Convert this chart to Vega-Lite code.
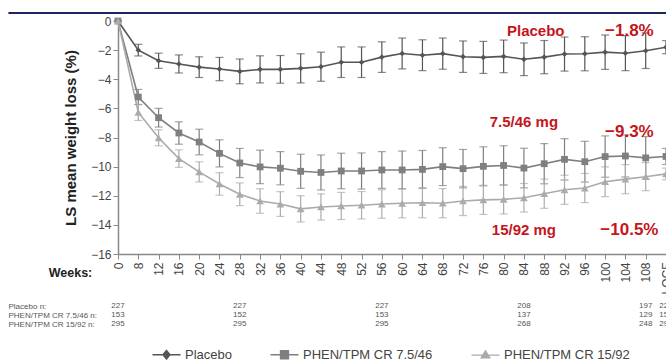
{
  "$schema": "https://vega.github.io/schema/vega-lite/v6.json",
  "width": 548,
  "height": 233,
  "autosize": "none",
  "padding": {"left": 118, "top": 21, "right": 0, "bottom": 106},
  "background": "white",
  "config": {
    "font": "Liberation Sans",
    "view": {"stroke": null},
    "axis": {"grid": false},
    "axisY": {"domainColor": "#888", "domainWidth": 1.5, "tickColor": "#888", "tickSize": 5, "labelFontSize": 12, "labelColor": "#444", "labelPadding": 2, "titleFontSize": 15, "titleFontWeight": "bold", "titleColor": "#222", "titlePadding": 12},
    "axisX": {"labelAngle": -90, "labelFontSize": 12, "labelColor": "#444", "tickSize": 5, "tickColor": "#888", "domainColor": "#888", "domainWidth": 1.5, "labelPadding": 3, "titleFontSize": 12.5, "titleFontWeight": "bold", "titleColor": "#222", "titleX": -48, "titleY": 18, "titleAlign": "center", "titleBaseline": "middle"}
  },
  "datasets": {
    "series": [
      {"arm": "Placebo", "week": "0", "mean": 0, "lo": 0, "hi": 0},
      {"arm": "Placebo", "week": "8", "mean": -2.0, "lo": -2.4, "hi": -1.6},
      {"arm": "Placebo", "week": "12", "mean": -2.73, "lo": -3.25, "hi": -2.21},
      {"arm": "Placebo", "week": "16", "mean": -2.95, "lo": -3.57, "hi": -2.33},
      {"arm": "Placebo", "week": "20", "mean": -3.17, "lo": -3.88, "hi": -2.46},
      {"arm": "Placebo", "week": "24", "mean": -3.3, "lo": -4.1, "hi": -2.5},
      {"arm": "Placebo", "week": "28", "mean": -3.46, "lo": -4.31, "hi": -2.61},
      {"arm": "Placebo", "week": "32", "mean": -3.32, "lo": -4.25, "hi": -2.39},
      {"arm": "Placebo", "week": "36", "mean": -3.32, "lo": -4.27, "hi": -2.37},
      {"arm": "Placebo", "week": "40", "mean": -3.25, "lo": -4.25, "hi": -2.25},
      {"arm": "Placebo", "week": "44", "mean": -3.14, "lo": -4.14, "hi": -2.14},
      {"arm": "Placebo", "week": "48", "mean": -2.83, "lo": -3.88, "hi": -1.78},
      {"arm": "Placebo", "week": "52", "mean": -2.83, "lo": -3.88, "hi": -1.78},
      {"arm": "Placebo", "week": "56", "mean": -2.48, "lo": -3.53, "hi": -1.43},
      {"arm": "Placebo", "week": "60", "mean": -2.23, "lo": -3.29, "hi": -1.17},
      {"arm": "Placebo", "week": "64", "mean": -2.35, "lo": -3.41, "hi": -1.29},
      {"arm": "Placebo", "week": "68", "mean": -2.24, "lo": -3.31, "hi": -1.17},
      {"arm": "Placebo", "week": "72", "mean": -2.45, "lo": -3.53, "hi": -1.37},
      {"arm": "Placebo", "week": "76", "mean": -2.5, "lo": -3.6, "hi": -1.4},
      {"arm": "Placebo", "week": "80", "mean": -2.43, "lo": -3.55, "hi": -1.31},
      {"arm": "Placebo", "week": "84", "mean": -2.63, "lo": -3.75, "hi": -1.51},
      {"arm": "Placebo", "week": "88", "mean": -2.48, "lo": -3.62, "hi": -1.34},
      {"arm": "Placebo", "week": "92", "mean": -2.27, "lo": -3.44, "hi": -1.1},
      {"arm": "Placebo", "week": "96", "mean": -2.25, "lo": -3.42, "hi": -1.08},
      {"arm": "Placebo", "week": "100", "mean": -2.14, "lo": -3.32, "hi": -0.96},
      {"arm": "Placebo", "week": "104", "mean": -2.21, "lo": -3.41, "hi": -1.01},
      {"arm": "Placebo", "week": "108", "mean": -2.04, "lo": -3.26, "hi": -0.82},
      {"arm": "Placebo", "week": "LOCF", "mean": -1.8, "lo": -2.25, "hi": -1.35},
      {"arm": "PHEN/TPM CR 7.5/46", "week": "0", "mean": 0, "lo": 0, "hi": 0},
      {"arm": "PHEN/TPM CR 7.5/46", "week": "8", "mean": -5.22, "lo": -5.74, "hi": -4.7},
      {"arm": "PHEN/TPM CR 7.5/46", "week": "12", "mean": -6.64, "lo": -7.28, "hi": -6.0},
      {"arm": "PHEN/TPM CR 7.5/46", "week": "16", "mean": -7.69, "lo": -8.46, "hi": -6.92},
      {"arm": "PHEN/TPM CR 7.5/46", "week": "20", "mean": -8.31, "lo": -9.19, "hi": -7.43},
      {"arm": "PHEN/TPM CR 7.5/46", "week": "24", "mean": -9.09, "lo": -10.02, "hi": -8.16},
      {"arm": "PHEN/TPM CR 7.5/46", "week": "28", "mean": -9.75, "lo": -10.75, "hi": -8.75},
      {"arm": "PHEN/TPM CR 7.5/46", "week": "32", "mean": -10.02, "lo": -11.17, "hi": -8.87},
      {"arm": "PHEN/TPM CR 7.5/46", "week": "36", "mean": -10.11, "lo": -11.25, "hi": -8.97},
      {"arm": "PHEN/TPM CR 7.5/46", "week": "40", "mean": -10.32, "lo": -11.49, "hi": -9.15},
      {"arm": "PHEN/TPM CR 7.5/46", "week": "44", "mean": -10.4, "lo": -11.6, "hi": -9.2},
      {"arm": "PHEN/TPM CR 7.5/46", "week": "48", "mean": -10.3, "lo": -11.52, "hi": -9.08},
      {"arm": "PHEN/TPM CR 7.5/46", "week": "52", "mean": -10.3, "lo": -11.54, "hi": -9.06},
      {"arm": "PHEN/TPM CR 7.5/46", "week": "56", "mean": -10.23, "lo": -11.49, "hi": -8.97},
      {"arm": "PHEN/TPM CR 7.5/46", "week": "60", "mean": -10.23, "lo": -11.53, "hi": -8.93},
      {"arm": "PHEN/TPM CR 7.5/46", "week": "64", "mean": -10.19, "lo": -11.49, "hi": -8.89},
      {"arm": "PHEN/TPM CR 7.5/46", "week": "68", "mean": -10.0, "lo": -11.3, "hi": -8.7},
      {"arm": "PHEN/TPM CR 7.5/46", "week": "72", "mean": -10.14, "lo": -11.46, "hi": -8.82},
      {"arm": "PHEN/TPM CR 7.5/46", "week": "76", "mean": -9.98, "lo": -11.32, "hi": -8.64},
      {"arm": "PHEN/TPM CR 7.5/46", "week": "80", "mean": -9.92, "lo": -11.27, "hi": -8.57},
      {"arm": "PHEN/TPM CR 7.5/46", "week": "84", "mean": -10.1, "lo": -11.46, "hi": -8.74},
      {"arm": "PHEN/TPM CR 7.5/46", "week": "88", "mean": -9.8, "lo": -11.18, "hi": -8.42},
      {"arm": "PHEN/TPM CR 7.5/46", "week": "92", "mean": -9.5, "lo": -10.92, "hi": -8.08},
      {"arm": "PHEN/TPM CR 7.5/46", "week": "96", "mean": -9.66, "lo": -11.06, "hi": -8.26},
      {"arm": "PHEN/TPM CR 7.5/46", "week": "100", "mean": -9.31, "lo": -10.73, "hi": -7.89},
      {"arm": "PHEN/TPM CR 7.5/46", "week": "104", "mean": -9.27, "lo": -10.71, "hi": -7.83},
      {"arm": "PHEN/TPM CR 7.5/46", "week": "108", "mean": -9.4, "lo": -10.86, "hi": -7.94},
      {"arm": "PHEN/TPM CR 7.5/46", "week": "LOCF", "mean": -9.3, "lo": -9.85, "hi": -8.75},
      {"arm": "PHEN/TPM CR 15/92", "week": "0", "mean": 0, "lo": 0, "hi": 0},
      {"arm": "PHEN/TPM CR 15/92", "week": "8", "mean": -6.28, "lo": -6.83, "hi": -5.73},
      {"arm": "PHEN/TPM CR 15/92", "week": "12", "mean": -8.02, "lo": -8.57, "hi": -7.47},
      {"arm": "PHEN/TPM CR 15/92", "week": "16", "mean": -9.45, "lo": -10.05, "hi": -8.85},
      {"arm": "PHEN/TPM CR 15/92", "week": "20", "mean": -10.36, "lo": -11.05, "hi": -9.67},
      {"arm": "PHEN/TPM CR 15/92", "week": "24", "mean": -11.19, "lo": -11.96, "hi": -10.42},
      {"arm": "PHEN/TPM CR 15/92", "week": "28", "mean": -11.9, "lo": -12.68, "hi": -11.12},
      {"arm": "PHEN/TPM CR 15/92", "week": "32", "mean": -12.36, "lo": -13.2, "hi": -11.52},
      {"arm": "PHEN/TPM CR 15/92", "week": "36", "mean": -12.57, "lo": -13.42, "hi": -11.72},
      {"arm": "PHEN/TPM CR 15/92", "week": "40", "mean": -12.9, "lo": -13.8, "hi": -12.0},
      {"arm": "PHEN/TPM CR 15/92", "week": "44", "mean": -12.77, "lo": -13.67, "hi": -11.87},
      {"arm": "PHEN/TPM CR 15/92", "week": "48", "mean": -12.7, "lo": -13.63, "hi": -11.77},
      {"arm": "PHEN/TPM CR 15/92", "week": "52", "mean": -12.65, "lo": -13.59, "hi": -11.71},
      {"arm": "PHEN/TPM CR 15/92", "week": "56", "mean": -12.57, "lo": -13.55, "hi": -11.59},
      {"arm": "PHEN/TPM CR 15/92", "week": "60", "mean": -12.52, "lo": -13.52, "hi": -11.52},
      {"arm": "PHEN/TPM CR 15/92", "week": "64", "mean": -12.48, "lo": -13.51, "hi": -11.45},
      {"arm": "PHEN/TPM CR 15/92", "week": "68", "mean": -12.51, "lo": -13.51, "hi": -11.51},
      {"arm": "PHEN/TPM CR 15/92", "week": "72", "mean": -12.36, "lo": -13.36, "hi": -11.36},
      {"arm": "PHEN/TPM CR 15/92", "week": "76", "mean": -12.28, "lo": -13.28, "hi": -11.28},
      {"arm": "PHEN/TPM CR 15/92", "week": "80", "mean": -12.25, "lo": -13.25, "hi": -11.25},
      {"arm": "PHEN/TPM CR 15/92", "week": "84", "mean": -12.14, "lo": -13.12, "hi": -11.16},
      {"arm": "PHEN/TPM CR 15/92", "week": "88", "mean": -11.86, "lo": -12.86, "hi": -10.86},
      {"arm": "PHEN/TPM CR 15/92", "week": "92", "mean": -11.59, "lo": -12.59, "hi": -10.59},
      {"arm": "PHEN/TPM CR 15/92", "week": "96", "mean": -11.47, "lo": -12.47, "hi": -10.47},
      {"arm": "PHEN/TPM CR 15/92", "week": "100", "mean": -11.04, "lo": -12.06, "hi": -10.02},
      {"arm": "PHEN/TPM CR 15/92", "week": "104", "mean": -10.86, "lo": -11.86, "hi": -9.86},
      {"arm": "PHEN/TPM CR 15/92", "week": "108", "mean": -10.69, "lo": -11.65, "hi": -9.73},
      {"arm": "PHEN/TPM CR 15/92", "week": "LOCF", "mean": -10.5, "lo": -10.9, "hi": -10.1}
    ],
    "table": [
      {"row": "Placebo n:", "week": "0", "n": 227},
      {"row": "Placebo n:", "week": "28", "n": 227},
      {"row": "Placebo n:", "week": "56", "n": 227},
      {"row": "Placebo n:", "week": "84", "n": 208},
      {"row": "Placebo n:", "week": "108", "n": 197},
      {"row": "Placebo n:", "week": "LOCF", "n": 227},
      {"row": "PHEN/TPM CR 7.5/46 n:", "week": "0", "n": 153},
      {"row": "PHEN/TPM CR 7.5/46 n:", "week": "28", "n": 152},
      {"row": "PHEN/TPM CR 7.5/46 n:", "week": "56", "n": 153},
      {"row": "PHEN/TPM CR 7.5/46 n:", "week": "84", "n": 137},
      {"row": "PHEN/TPM CR 7.5/46 n:", "week": "108", "n": 129},
      {"row": "PHEN/TPM CR 7.5/46 n:", "week": "LOCF", "n": 153},
      {"row": "PHEN/TPM CR 15/92 n:", "week": "0", "n": 295},
      {"row": "PHEN/TPM CR 15/92 n:", "week": "28", "n": 295},
      {"row": "PHEN/TPM CR 15/92 n:", "week": "56", "n": 295},
      {"row": "PHEN/TPM CR 15/92 n:", "week": "84", "n": 268},
      {"row": "PHEN/TPM CR 15/92 n:", "week": "108", "n": 248},
      {"row": "PHEN/TPM CR 15/92 n:", "week": "LOCF", "n": 295}
    ],
    "arms": [
      {"arm": "Placebo"},
      {"arm": "PHEN/TPM CR 7.5/46"},
      {"arm": "PHEN/TPM CR 15/92"}
    ],
    "doses": [
      {"week": "84", "y": -6.92, "label": "7.5/46 mg"},
      {"week": "84", "y": -14.35, "label": "15/92 mg"}
    ],
    "placebo": [
      {"week": "92", "y": -0.67, "label": "Placebo"}
    ],
    "pcts": [
      {"week": "104", "y": -0.67, "label": "−1.8%"},
      {"week": "104", "y": -7.6, "label": "−9.3%"},
      {"week": "104", "y": -14.35, "label": "−10.5%"}
    ]
  },
  "layer": [
    {
      "encoding": {
        "x": {"field": "week", "type": "ordinal", "title": "Weeks:", "scale": {"type": "point", "padding": 0, "domain": ["0","8","12","16","20","24","28","32","36","40","44","48","52","56","60","64","68","72","76","80","84","88","92","96","100","104","108","LOCF"]}},
        "y": {"type": "quantitative", "title": "LS mean weight loss (%)", "scale": {"domain": [-16, 0], "nice": false, "zero": false}, "axis": {"values": [-16, -14, -12, -10, -8, -6, -4, -2, 0]}}
      },
      "layer": [
        {
          "data": {"name": "series"},
          "mark": {"type": "errorbar", "ticks": {"size": 8}, "thickness": 1.2},
          "encoding": {
            "y": {"field": "lo", "type": "quantitative", "title": "LS mean weight loss (%)", "axis": {"values": [-16, -14, -12, -10, -8, -6, -4, -2, 0]}},
            "y2": {"field": "hi"},
            "color": {"field": "arm", "type": "nominal", "legend": null, "scale": {"domain": ["Placebo", "PHEN/TPM CR 7.5/46", "PHEN/TPM CR 15/92"], "range": ["#555555", "#7f7f7f", "#ababab"]}}
          }
        },
        {
          "data": {"name": "series"},
          "mark": {"type": "line", "strokeWidth": 1.6},
          "encoding": {
            "y": {"field": "mean", "type": "quantitative", "title": "LS mean weight loss (%)", "axis": {"values": [-16, -14, -12, -10, -8, -6, -4, -2, 0]}},
            "color": {"field": "arm", "type": "nominal", "legend": null}
          }
        },
        {
          "data": {"name": "series"},
          "mark": {"type": "point", "filled": true, "opacity": 1},
          "encoding": {
            "y": {"field": "mean", "type": "quantitative", "title": "LS mean weight loss (%)", "axis": {"values": [-16, -14, -12, -10, -8, -6, -4, -2, 0]}},
            "color": {"field": "arm", "type": "nominal", "legend": null},
            "shape": {"field": "arm", "type": "nominal", "legend": null, "scale": {"domain": ["Placebo", "PHEN/TPM CR 7.5/46", "PHEN/TPM CR 15/92"], "range": ["diamond", "square", "triangle-up"]}},
            "size": {"field": "arm", "type": "nominal", "scale": {"domain": ["Placebo", "PHEN/TPM CR 7.5/46", "PHEN/TPM CR 15/92"], "range": [32, 60, 48]}, "legend": null}
          }
        },
        {
          "data": {"name": "doses"},
          "mark": {"type": "text", "fontSize": 15, "fontWeight": "bold", "color": "#c4161c", "baseline": "middle", "align": "center"},
          "encoding": {
            "y": {"field": "y", "type": "quantitative", "title": "LS mean weight loss (%)", "axis": {"values": [-16, -14, -12, -10, -8, -6, -4, -2, 0]}},
            "text": {"field": "label"}
          }
        },
        {
          "data": {"name": "placebo"},
          "mark": {"type": "text", "fontSize": 15, "fontWeight": "bold", "color": "#c4161c", "baseline": "middle", "align": "right"},
          "encoding": {
            "y": {"field": "y", "type": "quantitative", "title": "LS mean weight loss (%)", "axis": {"values": [-16, -14, -12, -10, -8, -6, -4, -2, 0]}},
            "text": {"field": "label"}
          }
        },
        {
          "data": {"name": "pcts"},
          "mark": {"type": "text", "fontSize": 17, "fontWeight": "bold", "color": "#c4161c", "baseline": "middle", "align": "center", "dx": 4},
          "encoding": {
            "y": {"field": "y", "type": "quantitative", "title": "LS mean weight loss (%)", "axis": {"values": [-16, -14, -12, -10, -8, -6, -4, -2, 0]}},
            "text": {"field": "label"}
          }
        }
      ]
    },
    {
      "data": {"name": "table"},
      "mark": {"type": "text", "fontSize": 8, "color": "#555", "baseline": "middle", "align": "center"},
      "encoding": {
        "x": {"field": "week", "type": "ordinal", "axis": null, "scale": {"type": "point", "padding": 0, "domain": ["0","8","12","16","20","24","28","32","36","40","44","48","52","56","60","64","68","72","76","80","84","88","92","96","100","104","108","LOCF"]}},
        "y": {"field": "row", "type": "nominal", "scale": {"type": "point", "padding": 0, "domain": ["Placebo n:", "PHEN/TPM CR 7.5/46 n:", "PHEN/TPM CR 15/92 n:"], "range": [285, 303]},
          "axis": {"orient": "left", "title": null, "domain": false, "ticks": false, "tickSize": 0, "labelAlign": "left", "labelPadding": 110, "labelFontSize": 8, "labelColor": "#555", "labelBaseline": "middle"}},
        "text": {"field": "n"}
      }
    },
    {
      "data": {"name": "arms"},
      "mark": {"type": "point", "opacity": 0, "strokeWidth": 1.3},
      "encoding": {
        "fill": {"field": "arm", "type": "nominal", "scale": {"domain": ["Placebo", "PHEN/TPM CR 7.5/46", "PHEN/TPM CR 15/92"], "range": ["#555555", "#7f7f7f", "#ababab"]},
          "legend": {"title": null, "orient": "none", "legendX": 42, "legendY": 327, "direction": "horizontal", "labelFontSize": 13, "labelColor": "#444", "symbolSize": 64, "labelOffset": 12, "columnPadding": 35, "padding": 0, "symbolOpacity": 1, "symbolStrokeWidth": 1.3}},
        "stroke": {"field": "arm", "type": "nominal", "scale": {"domain": ["Placebo", "PHEN/TPM CR 7.5/46", "PHEN/TPM CR 15/92"], "range": ["#555555", "#7f7f7f", "#ababab"]},
          "legend": {"title": null, "orient": "none", "legendX": 42, "legendY": 327, "direction": "horizontal", "labelFontSize": 13, "labelColor": "#444", "symbolSize": 64, "labelOffset": 12, "columnPadding": 35, "padding": 0, "symbolOpacity": 1, "symbolStrokeWidth": 1.3}},
        "shape": {"field": "arm", "type": "nominal", "scale": {"domain": ["Placebo", "PHEN/TPM CR 7.5/46", "PHEN/TPM CR 15/92"], "range": ["M-3.5,0H3.5M0,-1.1L0.9,0L0,1.1L-0.9,0Z", "M-3.5,0H3.5M-1,-1H1V1H-1Z", "M-3.5,0.1H3.5M0,-1L1.1,0.8H-1.1Z"]},
          "legend": {"title": null, "orient": "none", "legendX": 42, "legendY": 327, "direction": "horizontal", "labelFontSize": 13, "labelColor": "#444", "symbolSize": 64, "labelOffset": 12, "columnPadding": 35, "padding": 0, "symbolOpacity": 1, "symbolStrokeWidth": 1.3}}
      }
    },
    {
      "data": {"values": [{}]},
      "mark": {"type": "rule", "color": "#1c2463", "strokeWidth": 2},
      "encoding": {
        "x": {"datum": -0.2, "type": "quantitative", "scale": {"domain": [0, 1], "nice": false, "zero": false}, "axis": null},
        "x2": {"datum": 1},
        "y": {"datum": 0.55, "type": "quantitative", "scale": {"domain": [-16, 0], "nice": false, "zero": false}, "axis": null}
      }
    }
  ],
  "resolve": {"scale": {"x": "independent", "y": "independent", "shape": "independent", "fill": "independent", "stroke": "independent", "color": "independent"}, "axis": {"x": "independent", "y": "independent"}}
}
